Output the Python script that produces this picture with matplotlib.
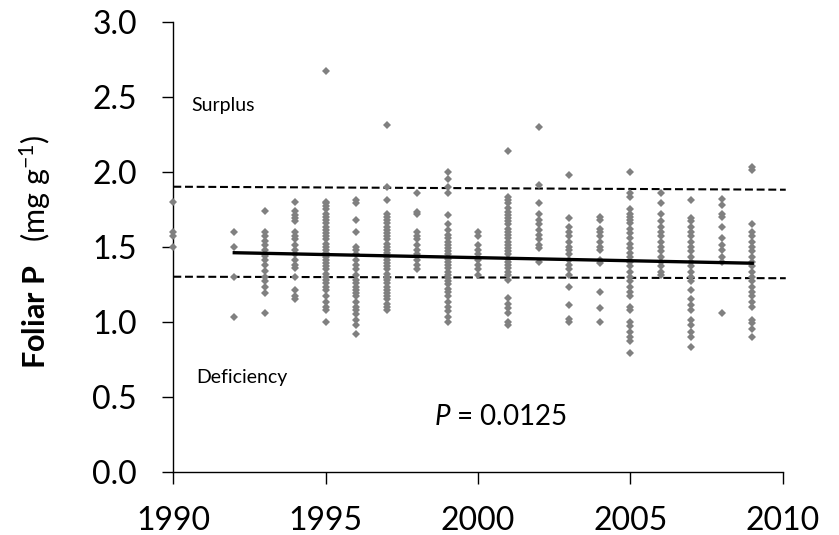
import matplotlib
matplotlib.use("Agg")
import matplotlib.pyplot as plt
from matplotlib.ticker import FormatStrFormatter

plt.rcParams["font.family"] = ["Lato", "DejaVu Sans"]
plt.rcParams["mathtext.fontset"] = "custom"
plt.rcParams["mathtext.rm"] = "Lato"
plt.rcParams["mathtext.it"] = "Lato:italic"
plt.rcParams["mathtext.bf"] = "Lato:bold"

# foliar P concentration (mg/g) of individual samples, by sampling year
p_1990 = [1.80, 1.60, 1.57, 1.50]
p_1992 = [1.60, 1.50, 1.30, 1.03]
p_1993 = [1.74, 1.60, 1.57, 1.54, 1.51, 1.48, 1.44, 1.41, 1.38, 1.34, 1.30,
          1.27, 1.23, 1.19, 1.06]
p_1994 = [1.80, 1.74, 1.71, 1.69, 1.67, 1.60, 1.57, 1.55, 1.51, 1.48, 1.45,
          1.41, 1.38, 1.36, 1.30, 1.21, 1.17, 1.15]
p_1995 = [2.67, 1.80, 1.79, 1.77, 1.75, 1.72, 1.70, 1.68, 1.66, 1.63, 1.61,
          1.59, 1.57, 1.55, 1.52, 1.50, 1.48, 1.46, 1.43, 1.41, 1.39, 1.37,
          1.35, 1.32, 1.30, 1.28, 1.26, 1.23, 1.21, 1.17, 1.13, 1.10, 1.08,
          1.00]
p_1996 = [1.81, 1.79, 1.68, 1.60, 1.50, 1.48, 1.45, 1.41, 1.38, 1.35, 1.31,
          1.28, 1.26, 1.23, 1.21, 1.19, 1.17, 1.13, 1.10, 1.08, 1.05, 1.01,
          0.98, 0.92]
p_1997 = [2.31, 1.90, 1.81, 1.72, 1.70, 1.68, 1.66, 1.63, 1.61, 1.59, 1.57,
          1.55, 1.52, 1.50, 1.48, 1.46, 1.43, 1.41, 1.39, 1.37, 1.35, 1.32,
          1.30, 1.28, 1.26, 1.23, 1.21, 1.19, 1.17, 1.15, 1.12, 1.10, 1.08]
p_1998 = [1.86, 1.73, 1.72, 1.60, 1.57, 1.55, 1.51, 1.48, 1.45, 1.41, 1.38,
          1.35]
p_1999 = [2.00, 1.95, 1.90, 1.86, 1.71, 1.65, 1.61, 1.58, 1.56, 1.53, 1.51,
          1.49, 1.47, 1.45, 1.42, 1.40, 1.38, 1.36, 1.33, 1.31, 1.29, 1.27,
          1.25, 1.22, 1.20, 1.17, 1.13, 1.10, 1.07, 1.03, 1.00]
p_2000 = [1.60, 1.57, 1.51, 1.48, 1.45, 1.41, 1.38, 1.35, 1.31]
p_2001 = [2.14, 1.83, 1.81, 1.79, 1.76, 1.73, 1.71, 1.69, 1.67, 1.65, 1.62,
          1.60, 1.58, 1.56, 1.53, 1.51, 1.49, 1.47, 1.45, 1.42, 1.40, 1.38,
          1.36, 1.33, 1.31, 1.28, 1.16, 1.12, 1.09, 1.06, 1.00, 0.98]
p_2002 = [2.30, 1.91, 1.79, 1.72, 1.68, 1.65, 1.61, 1.58, 1.55, 1.51, 1.49,
          1.40]
p_2003 = [1.98, 1.69, 1.63, 1.60, 1.57, 1.53, 1.50, 1.48, 1.45, 1.41, 1.38,
          1.35, 1.31, 1.23, 1.11, 1.02, 1.00]
p_2004 = [1.70, 1.68, 1.62, 1.60, 1.57, 1.53, 1.50, 1.48, 1.41, 1.39, 1.20,
          1.09, 1.00]
p_2005 = [2.00, 1.86, 1.83, 1.75, 1.72, 1.70, 1.68, 1.66, 1.62, 1.59, 1.56,
          1.52, 1.49, 1.46, 1.43, 1.40, 1.37, 1.33, 1.30, 1.27, 1.23, 1.20,
          1.17, 1.10, 1.08, 1.00, 0.97, 0.93, 0.90, 0.87, 0.79]
p_2006 = [1.86, 1.79, 1.72, 1.67, 1.63, 1.60, 1.57, 1.53, 1.50, 1.47, 1.43,
          1.40, 1.37, 1.33, 1.31]
p_2007 = [1.81, 1.69, 1.67, 1.63, 1.60, 1.57, 1.53, 1.50, 1.47, 1.43, 1.40,
          1.37, 1.33, 1.30, 1.27, 1.21, 1.15, 1.11, 1.08, 1.01, 0.98, 0.93,
          0.90, 0.83]
p_2008 = [1.82, 1.78, 1.72, 1.70, 1.63, 1.56, 1.51, 1.48, 1.43, 1.40, 1.06]
p_2009 = [2.03, 2.01, 1.65, 1.60, 1.57, 1.53, 1.50, 1.47, 1.43, 1.40, 1.37,
          1.33, 1.30, 1.27, 1.23, 1.20, 1.17, 1.13, 1.10, 1.01, 0.99, 0.95,
          0.90]

samples = [(1990, p_1990), (1992, p_1992), (1993, p_1993), (1994, p_1994),
           (1995, p_1995), (1996, p_1996), (1997, p_1997), (1998, p_1998),
           (1999, p_1999), (2000, p_2000), (2001, p_2001), (2002, p_2002),
           (2003, p_2003), (2004, p_2004), (2005, p_2005), (2006, p_2006),
           (2007, p_2007), (2008, p_2008), (2009, p_2009)]

# linear trend over the sampled years
trend_years = [1992, 2009]
trend_p = [1.46, 1.39]

# sufficiency range limits
limit_years = [1990, 2010.1]
surplus_limit = [1.90, 1.88]
deficiency_limit = [1.30, 1.29]

p_value = 0.0125

fig = plt.figure(figsize=(8.39, 5.35), dpi=100)
ax = fig.add_axes([0.2066, 0.1183, 0.7263, 0.8411])

xs, ys = [], []
for year, vals in samples:
    xs += [year] * len(vals)
    ys += vals
ax.plot(xs, ys, linestyle="none", marker="D", markersize=4.4,
        color="#808080", markeredgewidth=0, clip_on=False, zorder=3)

ax.plot(limit_years, surplus_limit, color="black", lw=1.5,
        dashes=(3.8, 1.8), clip_on=False, zorder=2)
ax.plot(limit_years, deficiency_limit, color="black", lw=1.5,
        dashes=(3.8, 1.8), clip_on=False, zorder=2)
ax.plot(trend_years, trend_p, color="black", lw=2.4, zorder=4)

ax.text(1990.6, 2.44, "Surplus", fontsize=14, va="center", ha="left")
ax.text(1990.75, 0.625, "Deficiency", fontsize=14, va="center", ha="left")
ax.text(2000.75, 0.363, r"$\it{P}$ = " + f"{p_value}", fontsize=20,
        va="center", ha="center")

ax.set_xlim(1990, 2010)
ax.set_ylim(0, 3.0)
ax.set_xticks([1990, 1995, 2000, 2005, 2010])
ax.set_yticks([0.0, 0.5, 1.0, 1.5, 2.0, 2.5, 3.0])
ax.yaxis.set_major_formatter(FormatStrFormatter("%.1f"))

for side in ["top", "right"]:
    ax.spines[side].set_visible(False)
for side in ["left", "bottom"]:
    ax.spines[side].set_linewidth(1.0)

ax.tick_params(axis="x", direction="out", length=8.5, width=1.0,
               labelsize=23, pad=16)
ax.tick_params(axis="y", direction="out", length=8, width=1.0,
               labelsize=23, pad=18)

ax.set_ylabel(r"$\mathbf{Foliar\ P}$   (mg g$^{-1}$)", fontsize=22)
ax.yaxis.set_label_coords(-0.197, 0.49)

fig.savefig("out.png", dpi=100)
